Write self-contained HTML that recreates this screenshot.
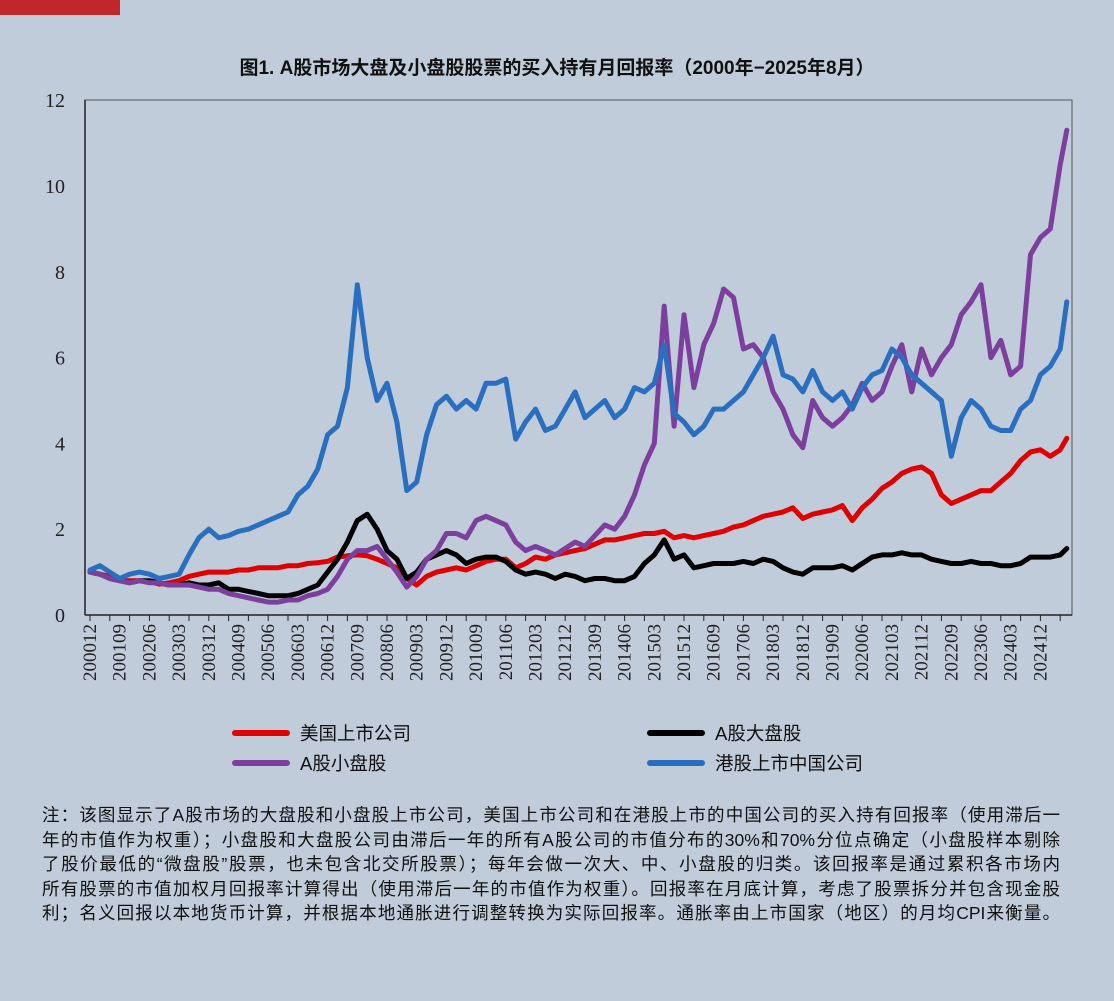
<!DOCTYPE html>
<html><head><meta charset="utf-8"><style>
body{margin:0;width:1114px;height:1001px;background:#c0ccd9;position:relative;overflow:hidden;font-family:"Liberation Sans","Noto Sans CJK SC",sans-serif;}
#bar{position:absolute;left:0;top:0;width:120px;height:15px;background:#c0272d;}
#title{position:absolute;left:0;width:1114px;top:53px;text-align:center;font-size:19px;font-weight:bold;color:#111;}
#note{position:absolute;left:42px;top:803px;width:1018px;font-size:17.5px;line-height:24.5px;color:#111;}
#note div{white-space:nowrap;text-align:justify;text-align-last:justify;text-justify:inter-character;}
</style></head><body>
<div id="bar"></div>
<div id="title">图1. A股市场大盘及小盘股股票的买入持有月回报率（2000年−2025年8月）</div>
<svg id="chart" width="1114" height="800" style="position:absolute;left:0;top:0"></svg>
<div id="note">
<div>注：该图显示了A股市场的大盘股和小盘股上市公司，美国上市公司和在港股上市的中国公司的买入持有回报率（使用滞后一</div>
<div>年的市值作为权重）；小盘股和大盘股公司由滞后一年的所有A股公司的市值分布的30%和70%分位点确定（小盘股样本剔除</div>
<div>了股价最低的“微盘股”股票，也未包含北交所股票）；每年会做一次大、中、小盘股的归类。该回报率是通过累积各市场内</div>
<div>所有股票的市值加权月回报率计算得出（使用滞后一年的市值作为权重）。回报率在月底计算，考虑了股票拆分并包含现金股</div>
<div>利；名义回报以本地货币计算，并根据本地通胀进行调整转换为实际回报率。通胀率由上市国家（地区）的月均CPI来衡量。</div>
</div>
<script>
const yTicks=[0,2,4,6,8,10,12];
const xLabels=["200012","200109","200206","200303","200312","200409","200506","200603","200612","200709","200806","200903","200912","201009","201106","201203","201212","201309","201406","201503","201512","201609","201706","201803","201812","201909","202006","202103","202112","202209","202306","202403","202412"];
const usData=[1.0, 0.95,0.9,0.8,0.8, 0.8,0.78,0.72,0.75, 0.8,0.9,0.95,1.0, 1.0,1.0,1.05,1.05, 1.1,1.1,1.1,1.15, 1.15,1.2,1.22,1.25, 1.35,1.38,1.4,1.38, 1.3,1.2,1.1,0.85, 0.7,0.9,1.0,1.05, 1.1,1.05,1.15,1.25, 1.3,1.3,1.1,1.2, 1.35,1.3,1.4,1.45, 1.5,1.55,1.65,1.75, 1.75,1.8,1.85,1.9, 1.9,1.95,1.8,1.85, 1.8,1.85,1.9,1.95, 2.05,2.1,2.2,2.3, 2.35,2.4,2.5,2.25, 2.35,2.4,2.45,2.55, 2.2,2.5,2.7,2.95, 3.1,3.3,3.4,3.45, 3.3,2.8,2.6,2.7, 2.8,2.9,2.9,3.1, 3.3,3.6,3.8,3.85, 3.7,3.85,4.12];
const aLargeData=[1.0, 0.95,0.85,0.8,0.75, 0.8,0.8,0.75,0.7, 0.7,0.75,0.7,0.7, 0.75,0.6,0.6,0.55, 0.5,0.45,0.45,0.45, 0.5,0.6,0.7,1.0, 1.3,1.7,2.2,2.35, 2.0,1.5,1.3,0.85, 1.0,1.3,1.4,1.5, 1.4,1.2,1.3,1.35, 1.35,1.25,1.05,0.95, 1.0,0.95,0.85,0.95, 0.9,0.8,0.85,0.85, 0.8,0.8,0.9,1.2, 1.4,1.75,1.3,1.4, 1.1,1.15,1.2,1.2, 1.2,1.25,1.2,1.3, 1.25,1.1,1.0,0.95, 1.1,1.1,1.1,1.15, 1.05,1.2,1.35,1.4, 1.4,1.45,1.4,1.4, 1.3,1.25,1.2,1.2, 1.25,1.2,1.2,1.15, 1.15,1.2,1.35,1.35, 1.35,1.4,1.55];
const aSmallData=[1.0, 0.95,0.85,0.8,0.75, 0.8,0.75,0.75,0.7, 0.7,0.7,0.65,0.6, 0.6,0.5,0.45,0.4, 0.35,0.3,0.3,0.35, 0.35,0.45,0.5,0.6, 0.9,1.3,1.5,1.5, 1.6,1.3,1.0,0.65, 0.9,1.3,1.5,1.9, 1.9,1.8,2.2,2.3, 2.2,2.1,1.7,1.5, 1.6,1.5,1.4,1.55, 1.7,1.6,1.85,2.1, 2.0,2.3,2.8,3.5, 4.0,7.2,4.4,7.0, 5.3,6.3,6.8,7.6, 7.4,6.2,6.3,6.0, 5.2,4.8,4.2,3.9, 5.0,4.6,4.4,4.6, 4.9,5.4,5.0,5.2, 5.8,6.3,5.2,6.2, 5.6,6.0,6.3,7.0, 7.3,7.7,6.0,6.4, 5.6,5.8,8.4,8.8, 9.0,10.5,11.3];
const hkData=[1.05, 1.15,1.0,0.85,0.95, 1.0,0.95,0.85,0.9, 0.95,1.4,1.8,2.0, 1.8,1.85,1.95,2.0, 2.1,2.2,2.3,2.4, 2.8,3.0,3.4,4.2, 4.4,5.3,7.7,6.0, 5.0,5.4,4.5,2.9, 3.1,4.2,4.9,5.1, 4.8,5.0,4.8,5.4, 5.4,5.5,4.1,4.5, 4.8,4.3,4.4,4.8, 5.2,4.6,4.8,5.0, 4.6,4.8,5.3,5.2, 5.4,6.3,4.7,4.5, 4.2,4.4,4.8,4.8, 5.0,5.2,5.6,6.0, 6.5,5.6,5.5,5.2, 5.7,5.2,5.0,5.2, 4.8,5.3,5.6,5.7, 6.2,6.0,5.6,5.4, 5.2,5.0,3.7,4.6, 5.0,4.8,4.4,4.3, 4.3,4.8,5.0,5.6, 5.8,6.2,7.3];
const NS="http://www.w3.org/2000/svg";
const svg=document.getElementById('chart');
const X0=90,PXM=3.3,Y0=615,PXU=42.9;
function xm(m){return X0+m*PXM;}
function yv(v){return Y0-v*PXU;}
function mk(t,a){const e=document.createElementNS(NS,t);for(const k in a)e.setAttribute(k,a[k]);svg.appendChild(e);return e;}
let e=mk('rect',{x:85,y:100,width:987,height:515,fill:'none',stroke:'#555','stroke-width':1});


e=mk('line',{x1:85,y1:615,x2:1072,y2:615,stroke:'#222','stroke-width':1.5});


e=mk('line',{x1:85,y1:100,x2:85,y2:615,stroke:'#222','stroke-width':1.5});


yTicks.forEach(t=>{
  const tx=mk('text',{x:65,y:yv(t)+7,'text-anchor':'end','font-size':20,'font-family':'Liberation Serif, serif',fill:'#222'});
  tx.textContent=t;
  
  
});
for(let m=0;m<=296;m+=6){
  const t=mk('line',{x1:xm(m),y1:615,x2:xm(m),y2:621,stroke:'#222','stroke-width':1});
  
  
}
xLabels.forEach((l,i)=>{
  const x=xm(i*9)+6;
  const tx=mk('text',{x:x,y:624,transform:`rotate(-90 ${x} 624)`,'text-anchor':'end','font-size':19,'font-family':'Liberation Serif, serif',fill:'#222'});
  tx.textContent=l;
  
  
});
function series(d,c,name){
  const pts=d.map((v,i)=>xm(Math.min(i*3,296)).toFixed(1)+','+yv(v).toFixed(1)).join(' ');
  const p=mk('polyline',{points:pts,fill:'none',stroke:c,'stroke-width':5,'stroke-linejoin':'round','stroke-linecap':'round'});
  
  
}
series(usData,'#e00000','us-listed-line');
series(aLargeData,'#000000','a-share-large-cap-line');
series(aSmallData,'#7d3f9e','a-share-small-cap-line');
series(hkData,'#2a6fbf','hk-listed-china-line');
const legs=[["美国上市公司",'#e00000',235,733],["A股大盘股",'#000000',650,733],["A股小盘股",'#7d3f9e',235,763],["港股上市中国公司",'#2a6fbf',650,763]];
legs.forEach(l=>{
  const ln=mk('line',{x1:l[2],y1:l[3],x2:l[2]+52,y2:l[3],stroke:l[1],'stroke-width':6,'stroke-linecap':'round'});
  
  
  const tx=mk('text',{x:l[2]+65,y:l[3]+7,'font-size':18.5,fill:'#111'});
  tx.textContent=l[0];
  
  
});
</script>
</body></html>
